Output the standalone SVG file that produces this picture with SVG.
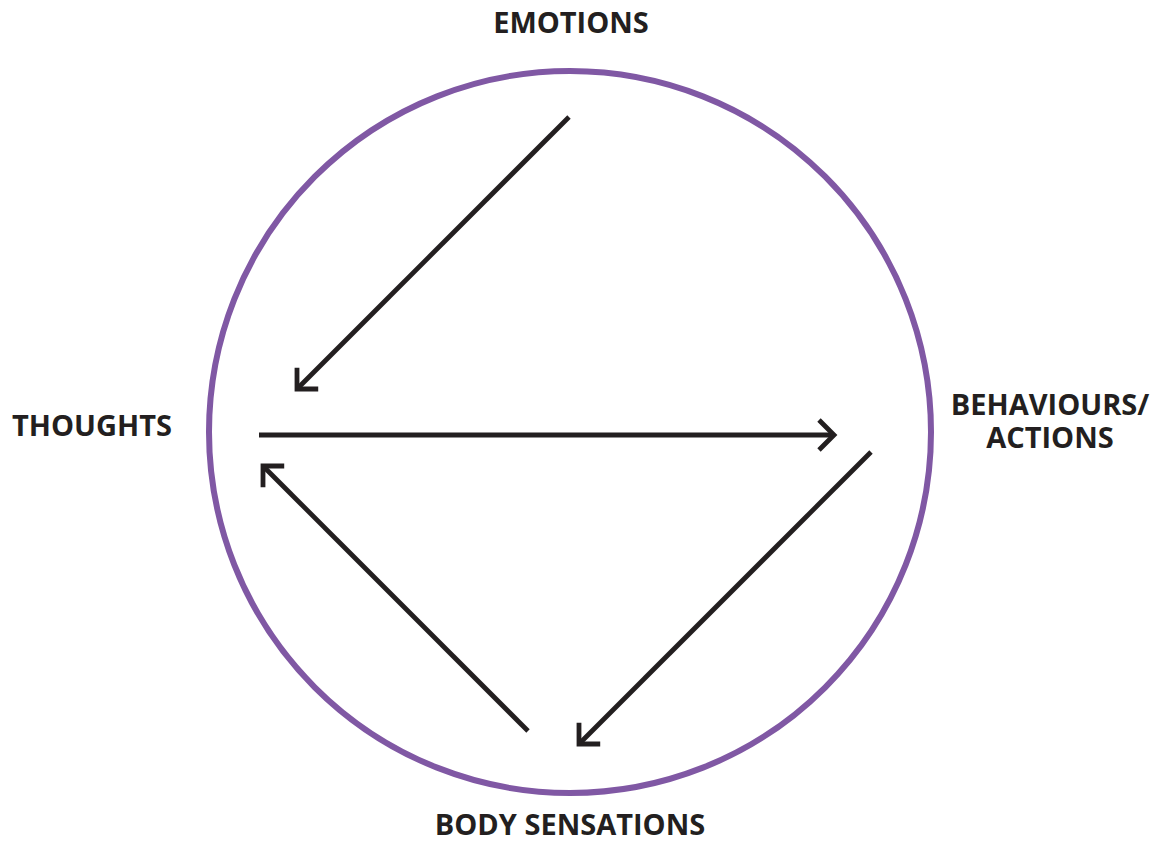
<svg xmlns="http://www.w3.org/2000/svg" width="1159" height="845" viewBox="0 0 1159 845">
<style>
.lbl{font-family:"Open Sans","Liberation Sans",sans-serif;font-weight:700;font-size:29px;fill:#231f20}
.arr{stroke:#231f20;stroke-width:4.8;fill:none;marker-end:url(#head)}
</style>
<defs>
<marker id="head" markerUnits="userSpaceOnUse" viewBox="-20 -20 30 40" markerWidth="30" markerHeight="40" refX="0" refY="0" orient="auto" overflow="visible">
<path d="M-15,-15 L0,0 L-15,15" fill="none" stroke="#231f20" stroke-width="4.8" stroke-linejoin="miter"/>
</marker>
</defs>
<rect width="1159" height="845" fill="#fff"/>
<g id="cycle">
<circle cx="570" cy="432" r="361" fill="none" stroke="#8058a4" stroke-width="6"/>
</g>
<g id="emotions"><text class="lbl" x="571" y="33" text-anchor="middle">EMOTIONS</text></g>
<g id="thoughts"><text class="lbl" x="92" y="436" text-anchor="middle">THOUGHTS</text></g>
<g id="behaviours"><text class="lbl" x="1050" y="415" text-anchor="middle">BEHAVIOURS/</text><text class="lbl" x="1050" y="448" text-anchor="middle">ACTIONS</text></g>
<g id="body"><text class="lbl" x="570" y="835" text-anchor="middle">BODY SENSATIONS</text></g>
<g id="connectors">
<line class="arr" x1="569" y1="117" x2="297" y2="389"/>
<line class="arr" x1="259" y1="435" x2="834" y2="435"/>
<line class="arr" x1="871" y1="452" x2="579" y2="744"/>
<line class="arr" x1="528" y1="731" x2="263" y2="466"/>
</g>
</svg>
